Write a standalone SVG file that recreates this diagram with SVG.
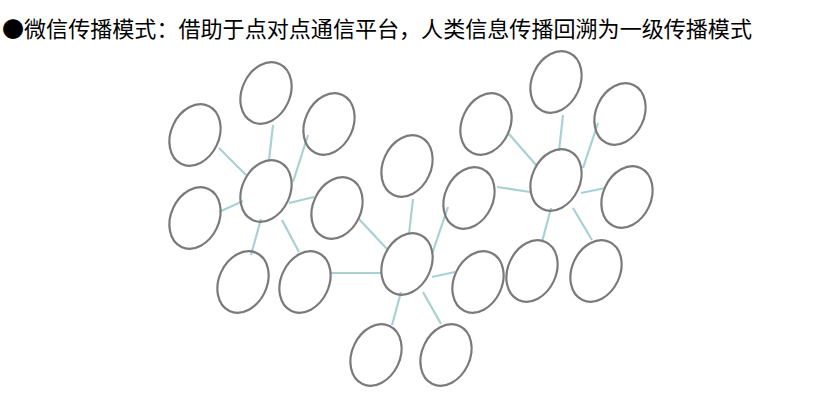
<svg xmlns="http://www.w3.org/2000/svg" width="840" height="402" viewBox="0 0 840 402">
<style>
.n{fill:none;stroke:#7a7a7a;stroke-width:2.2}
.c line{stroke:#a8d2d2;stroke-width:2.2}
.t{font-family:"Noto Sans CJK SC","Liberation Sans",sans-serif;font-size:22px;fill:#000}
</style>
<defs>
<ellipse id="e" cx="0" cy="0" rx="24" ry="32" transform="rotate(25)"/>
</defs>
<rect width="840" height="402" fill="#fff"/>
<text class="t" x="2" y="37" textLength="750" lengthAdjust="spacingAndGlyphs">●微信传播模式：借助于点对点通信平台，人类信息传播回溯为一级传播模式</text>
<g id="connectors" class="c">
<line x1="219" y1="148" x2="246" y2="175"/>
<line x1="273" y1="125" x2="269" y2="160"/>
<line x1="308" y1="135" x2="293" y2="182"/>
<line x1="314" y1="197" x2="289" y2="203"/>
<line x1="243" y1="201" x2="219" y2="212"/>
<line x1="261" y1="219" x2="251" y2="255"/>
<line x1="282" y1="220" x2="299" y2="252"/>
<line x1="330" y1="273" x2="382" y2="273"/>
<line x1="358" y1="218" x2="387" y2="249"/>
<line x1="413" y1="199" x2="409" y2="234"/>
<line x1="448" y1="207" x2="432" y2="254"/>
<line x1="455" y1="272" x2="432" y2="277"/>
<line x1="401" y1="292" x2="392" y2="325"/>
<line x1="423" y1="292" x2="441" y2="324"/>
<line x1="497" y1="187" x2="530" y2="192"/>
<line x1="509" y1="134" x2="536" y2="165"/>
<line x1="563" y1="115" x2="559" y2="151"/>
<line x1="598" y1="123" x2="583" y2="168"/>
<line x1="605" y1="188" x2="581" y2="193"/>
<line x1="551" y1="208" x2="542" y2="242"/>
<line x1="573" y1="208" x2="592" y2="240"/>
</g>
<g class="n">
<g id="n1"><use href="#e" x="266" y="191"/></g>
<g id="n2"><use href="#e" x="195" y="135"/></g>
<g id="n3"><use href="#e" x="266" y="93"/></g>
<g id="n4"><use href="#e" x="329" y="124"/></g>
<g id="n5"><use href="#e" x="195" y="218"/></g>
<g id="n6"><use href="#e" x="337" y="208"/></g>
<g id="n7"><use href="#e" x="243" y="282"/></g>
<g id="n8"><use href="#e" x="305" y="282"/></g>
<g id="n9"><use href="#e" x="407" y="264"/></g>
<g id="n10"><use href="#e" x="407" y="166"/></g>
<g id="n11"><use href="#e" x="469" y="198"/></g>
<g id="n12"><use href="#e" x="478" y="282"/></g>
<g id="n13"><use href="#e" x="376" y="355"/></g>
<g id="n14"><use href="#e" x="446" y="355"/></g>
<g id="n15"><use href="#e" x="556" y="180"/></g>
<g id="n16"><use href="#e" x="556" y="82"/></g>
<g id="n17"><use href="#e" x="486" y="124"/></g>
<g id="n18"><use href="#e" x="620" y="114"/></g>
<g id="n19"><use href="#e" x="627" y="197"/></g>
<g id="n20"><use href="#e" x="532" y="271"/></g>
<g id="n21"><use href="#e" x="596" y="271"/></g>
</g>
</svg>
